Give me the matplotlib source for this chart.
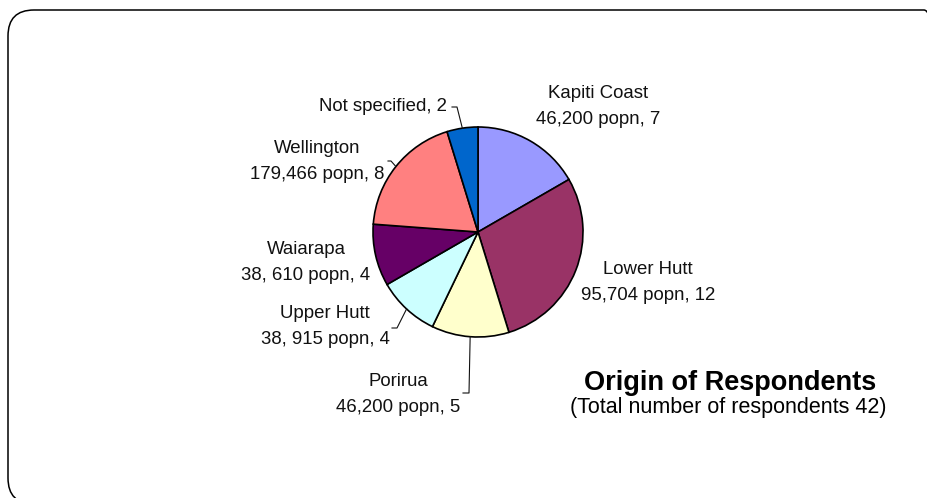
import numpy as np
import matplotlib
matplotlib.use('agg')
import matplotlib.pyplot as plt
from matplotlib.patches import FancyBboxPatch

plt.rc('font', family='Liberation Sans')

# data
regions = ['Kapiti Coast', 'Lower Hutt', 'Porirua', 'Upper Hutt', 'Waiarapa', 'Wellington', 'Not specified']
respondents = [7, 12, 5, 4, 4, 8, 2]
population = ['46,200', '95,704', '46,200', '38, 915', '38, 610', '179,466', None]
colors = ['#9999FF', '#993366', '#FFFFCC', '#CCFFFF', '#660066', '#FF8080', '#0066CC']

W, H = 928, 498
fig = plt.figure(figsize=(W / 100, H / 100), dpi=100)
ax = fig.add_axes([0, 0, 1, 1])

# pixel layout (top-left origin, converted below)
cx, cy, r = 478, 232, 105
def P(x, y):
    return x, H - y

wedges, _ = ax.pie(respondents, colors=colors, startangle=90, counterclock=False,
                   center=P(cx, cy), radius=r,
                   wedgeprops=dict(edgecolor='black', linewidth=1.2))
ax.set_xlim(0, W)
ax.set_ylim(0, H)
ax.set_aspect('equal')
ax.axis('off')

# label layout: (x, y of first line, alignment, leader elbow points)
label_pos = {
    'Kapiti Coast': (598, 93, 'center', None),
    'Lower Hutt': (648, 269, 'center', None),
    'Porirua': (398, 381, 'center', [(463, 393), (469, 393)]),
    'Upper Hutt': (325, 314, 'center', [(392, 328), (397, 328)]),
    'Waiarapa': (306, 249, 'center', None),
    'Wellington': (317, 148, 'center', [(388, 161), (391, 161)]),
    'Not specified': (447, 106, 'right', [(452, 107), (457, 107)]),
}
fs = 13.4
for w, name, n, pop in zip(wedges, regions, respondents, population):
    x, y, ha, leader = label_pos[name]
    if pop is None:
        ax.text(*P(x, y), f'{name}, {n}', ha=ha, va='center', fontsize=fs, color='#111111')
    else:
        ax.text(*P(x, y), name, ha=ha, va='center', fontsize=fs, color='#111111')
        ax.text(*P(x, y + 26), f'{pop} popn, {n}', ha=ha, va='center', fontsize=fs, color='#111111')
    if leader:
        mid = np.deg2rad((w.theta1 + w.theta2) / 2)
        ex, ey = w.center[0] + r * np.cos(mid), w.center[1] + r * np.sin(mid)
        xs = [P(*p)[0] for p in leader] + [ex]
        ys = [P(*p)[1] for p in leader] + [ey]
        ax.plot(xs, ys, color='#111111', lw=0.8)

ax.text(*P(730, 383), 'Origin of Respondents', ha='center', va='center',
        fontsize=19.5, fontweight='bold')
ax.text(*P(728, 408), '(Total number of respondents %d)' % sum(respondents),
        ha='center', va='center', fontsize=15.5)

# rounded border, running off the right and bottom edges
box = FancyBboxPatch(P(8, 504), 942, 494, boxstyle='round,pad=0,rounding_size=26',
                     facecolor='none', edgecolor='black', linewidth=1.1, clip_on=False)
ax.add_patch(box)

plt.savefig('out.png', dpi=100)
